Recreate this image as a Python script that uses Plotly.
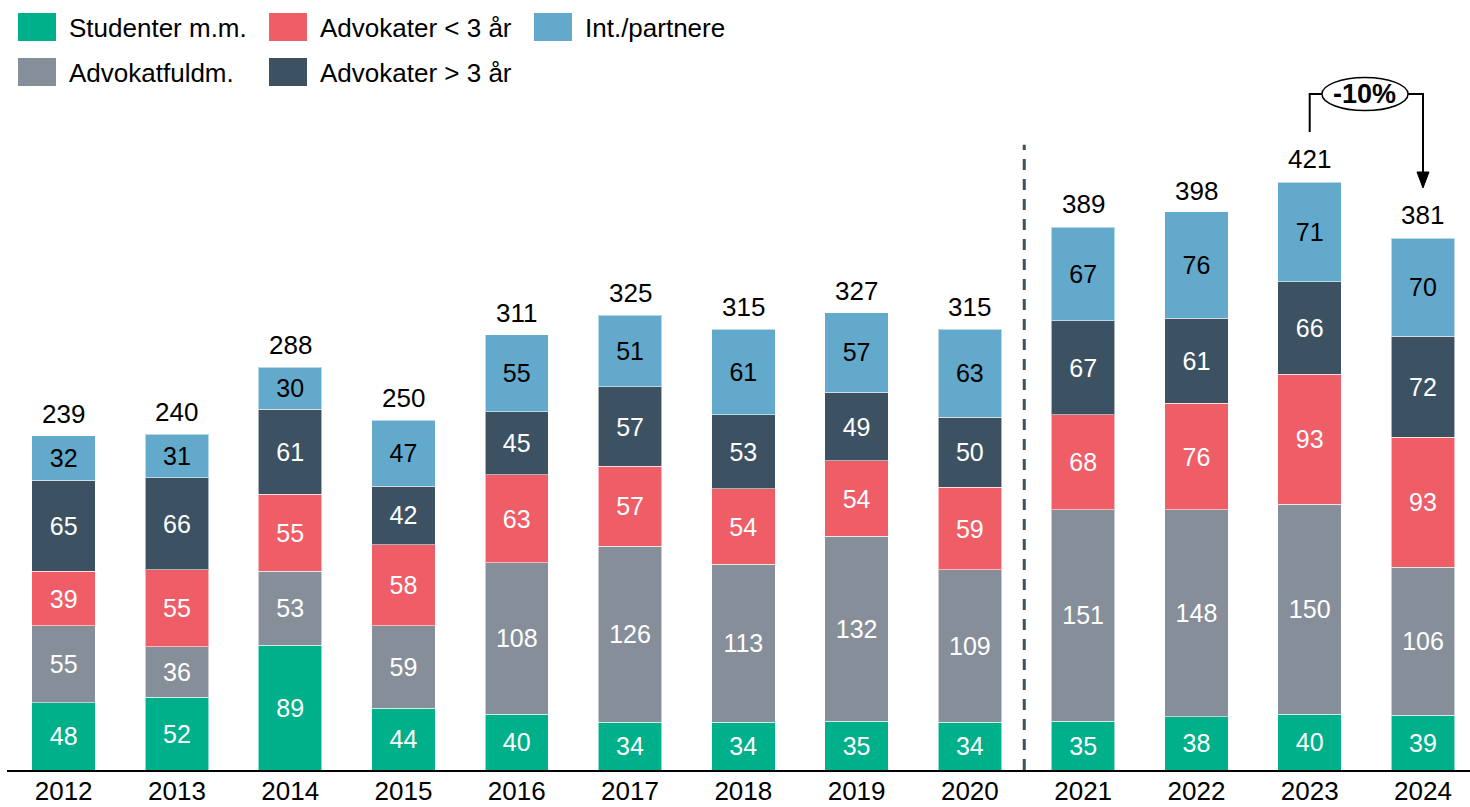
import plotly.graph_objects as go

years = ["2012", "2013", "2014", "2015", "2016", "2017", "2018", "2019", "2020",
         "2021", "2022", "2023", "2024"]
studenter = [48, 52, 89, 44, 40, 34, 34, 35, 34, 35, 38, 40, 39]
fuldm = [55, 36, 53, 59, 108, 126, 113, 132, 109, 151, 148, 150, 106]
adv_lt3 = [39, 55, 55, 58, 63, 57, 54, 54, 59, 68, 76, 93, 93]
adv_gt3 = [65, 66, 61, 42, 45, 57, 53, 49, 50, 67, 61, 66, 72]
partnere = [32, 31, 30, 47, 55, 51, 61, 57, 63, 67, 76, 71, 70]
totals = [239, 240, 288, 250, 311, 325, 315, 327, 315, 389, 398, 421, 381]

series = [
    ("Studenter m.m.", studenter, "#00B08A", "white"),
    ("Advokatfuldm.", fuldm, "#868F99", "white"),
    ("Advokater < 3 år", adv_lt3, "#EF5D67", "white"),
    ("Advokater > 3 år", adv_gt3, "#3C5262", "white"),
    ("Int./partnere", partnere, "#63A9CC", "black"),
]

FONT = "Liberation Sans, Arial, sans-serif"
W, H = 1470, 807
ML, MR, MT, MB = 7, 0, 0, 37
PW, PH = W - ML - MR, H - MT - MB
YMAX = 550.4

fig = go.Figure()
for name, vals, col, tcol in series:
    fig.add_trace(go.Bar(
        x=years, y=vals, name=name, showlegend=False,
        marker=dict(color=col, line=dict(color="rgba(255,255,255,0.55)", width=1)),
        width=0.56, text=[str(v) for v in vals], textposition="inside",
        insidetextanchor="middle", textangle=0, constraintext="none",
        textfont=dict(family=FONT, size=25, color=tcol),
        hoverinfo="skip",
    ))

# totals
for i, t in enumerate(totals):
    fig.add_annotation(x=i, y=t, text=str(t), showarrow=False, yanchor="bottom",
                       yshift=5, font=dict(family=FONT, size=26, color="black"))

# dashed separator
fig.add_shape(type="line", xref="x", yref="y", x0=8.48, x1=8.48, y0=0, y1=447,
              line=dict(color="#3C5262", width=3, dash="11px,9px"))

# -10% bracket
px_per_unit = PH / YMAX
def dy(px):
    return px / px_per_unit
i0, i1 = 11, 12
y_top = totals[i0] + dy(87)
y_left_end = totals[i0] + dy(49)
y_tip = totals[i1] + dy(49)
ell_x0, ell_x1 = i0 + 0.108, i0 + 0.868
line_col = "black"
fig.add_shape(type="path", xref="x", yref="y",
              path=f"M {i0},{y_left_end} L {i0},{y_top} L {ell_x0},{y_top}",
              line=dict(color=line_col, width=2))
fig.add_shape(type="path", xref="x", yref="y",
              path=f"M {ell_x1},{y_top} L {i1},{y_top} L {i1},{y_tip + dy(16)}",
              line=dict(color=line_col, width=2))
hw = 6 / 113.25
fig.add_shape(type="path", xref="x", yref="y",
              path=f"M {i1-hw},{y_tip + dy(16)} L {i1+hw},{y_tip + dy(16)} L {i1},{y_tip} Z",
              line=dict(color=line_col, width=1), fillcolor=line_col)
fig.add_shape(type="circle", xref="x", yref="y", x0=ell_x0, x1=ell_x1,
              y0=y_top - dy(16.5), y1=y_top + dy(16.5),
              line=dict(color=line_col, width=1.5), fillcolor="white")
change = round((totals[i1] - totals[i0]) / totals[i0] * 100)
fig.add_annotation(x=(ell_x0 + ell_x1) / 2, y=y_top, text=f"<b>{change}%</b>",
                   showarrow=False, font=dict(family=FONT, size=27, color="black"))

# manual legend
def xp(px):
    return (px - ML) / PW
def yp(py):
    return (H - MB - py) / PH
legend_pos = [
    ("Studenter m.m.", 18, 27), ("Advokater < 3 år", 269, 27), ("Int./partnere", 534, 27),
    ("Advokatfuldm.", 18, 72), ("Advokater > 3 år", 269, 72),
]
colmap = {s[0]: s[2] for s in series}
for name, lx, ly in legend_pos:
    fig.add_shape(type="rect", xref="paper", yref="paper",
                  x0=xp(lx), x1=xp(lx + 38), y0=yp(ly + 14), y1=yp(ly - 14),
                  line=dict(width=0), fillcolor=colmap[name])
    fig.add_annotation(xref="paper", yref="paper", x=xp(lx + 49), y=yp(ly + 1),
                       text=name, showarrow=False, xanchor="left", yanchor="middle",
                       font=dict(family=FONT, size=26, color="black"))

fig.update_layout(
    width=W, height=H, barmode="stack",
    margin=dict(l=ML, r=MR, t=MT, b=MB, pad=0, autoexpand=False),
    paper_bgcolor="white", plot_bgcolor="white",
    font=dict(family=FONT, size=26, color="black"),
    xaxis=dict(type="category", range=[-0.5, 12.415], showline=True, linecolor="black",
               linewidth=2, ticks="", showgrid=False, zeroline=False, automargin=False,
               tickfont=dict(family=FONT, size=26, color="black"), ticklabelstandoff=-3),
    yaxis=dict(range=[0, YMAX], visible=False, showgrid=False, zeroline=False,
               automargin=False),
)

fig.write_html("out.html", config={"displayModeBar": False},
               post_script="document.body.style.margin='0px';document.body.style.overflow='hidden';")
